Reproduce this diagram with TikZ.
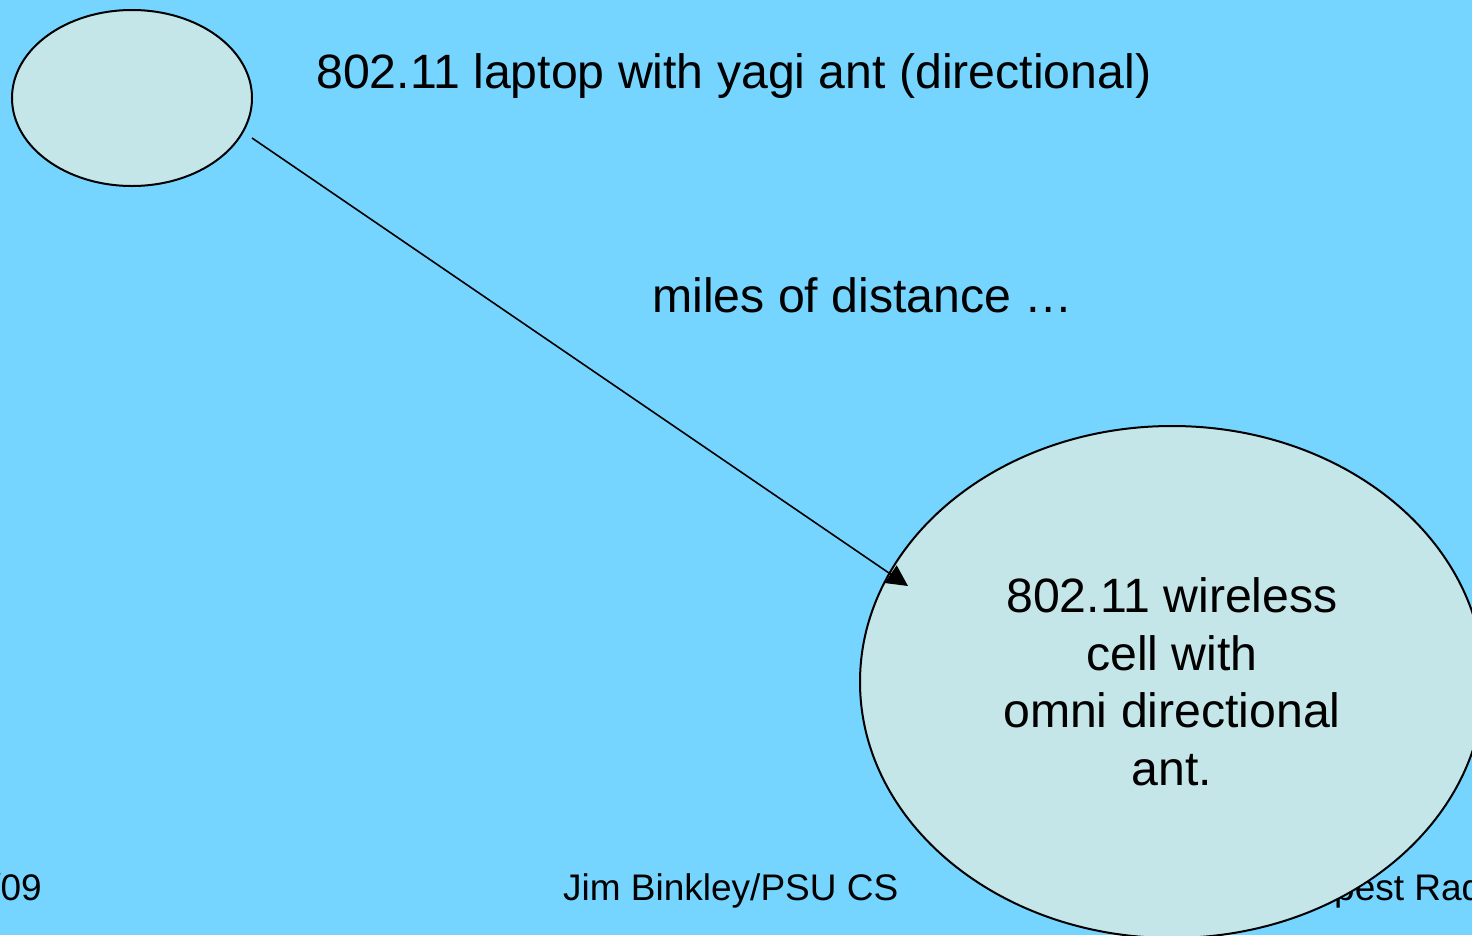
\documentclass[tikz,border=0pt]{standalone}
\usepackage{fontspec}
\setmainfont{Liberation Sans}
\usetikzlibrary{shapes.geometric,arrows.meta}
\definecolor{bgblue}{RGB}{117,213,255}
\definecolor{cellfill}{RGB}{196,230,232}
\begin{document}
\begin{tikzpicture}[x=1pt,y=-1pt,
  bubble/.style={ellipse, draw=black, line width=2pt, fill=cellfill, inner sep=0pt, align=center},
  bigtext/.style={font=\fontsize{48.2}{57.5}\selectfont},
  foottext/.style={font=\fontsize{37}{44}\selectfont, anchor=base west, inner sep=0pt},
  link/.style={line width=1.6pt, -{Triangle[length=21pt,width=21pt]}}]
\useasboundingbox (0,0) rectangle (1472,935);
\begin{scope}
\clip (0,0) rectangle (1472,935);
\fill[bgblue] (0,0) rectangle (1472,935);
% footer
\node[foottext, anchor=base east] (date) at (42,900) {/09};
\node[foottext] (author) at (563,900) {Jim Binkley/PSU CS};
\node[foottext] (title) at (1334,900) {pest Rad};
% bubbles
\node[bubble, minimum width=240pt, minimum height=176pt] (laptop) at (132,98) {};
\node[bubble, bigtext, minimum width=624pt, minimum height=512pt] (cell) at (1172,682)
  {802.11 wireless\\cell with\\omni directional\\ant.};
% labels
\node[bigtext, anchor=base west, inner sep=0pt] (laptoplabel) at (316,88) {802.11 laptop with yagi ant (directional)};
\node[bigtext, anchor=base west, inner sep=0pt] (distance) at (652,312) {miles of distance …};
% connector
\coordinate (start) at (252,138);
\coordinate (tip) at (908,586);
\draw[link] (start) -- (tip);
\end{scope}
\end{tikzpicture}
\end{document}
